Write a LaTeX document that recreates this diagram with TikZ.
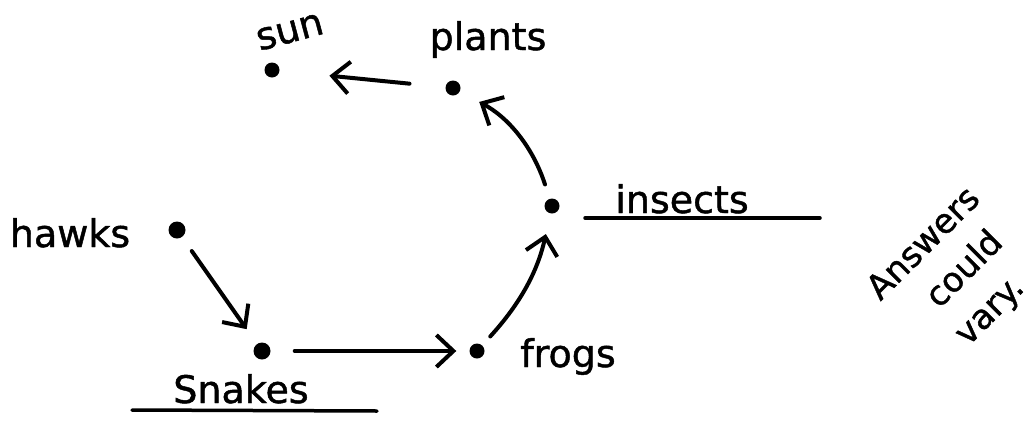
\documentclass[tikz,border=0pt]{standalone}
\usepackage{fontspec}
\setmainfont{DejaVu Sans}
\newfontfamily\handfont{DejaVu Sans}[FakeBold=1.2]
\usetikzlibrary{arrows.meta}
\begin{document}
\begin{tikzpicture}[x=1pt,y=-1pt,
  dot/.style={circle,fill=black,inner sep=0pt,minimum size=15pt},
  lbl/.style={font=\handfont\fontsize{38}{40}\selectfont,inner sep=0pt,text=black},
  note/.style={font=\handfont\fontsize{34}{47}\selectfont,inner sep=0pt,text=black,align=left},
  eat/.style={line width=4pt,line cap=round,-{Straight Barb[length=17pt,width=32pt,line width=4pt]}},
  uline/.style={line width=3.5pt,line cap=round}]
\useasboundingbox[fill=white] (0,0) rectangle (1034,421);
% dots
\node[dot] (sun) at (272,70) {};
\node[dot] (plants) at (453,88) {};
\node[dot] (insects) at (552,206) {};
\node[dot,minimum size=17pt] (hawks) at (177,230) {};
\node[dot,minimum size=17pt] (snakes) at (262,351) {};
\node[dot] (frogs) at (477,351) {};
% labels
\node[lbl,rotate=15] (sunl) at (290,32) {sun};
\node[lbl,anchor=base] (plantsl) at (488,50) {plants};
\node[lbl,anchor=base] (insectsl) at (682,213) {insects};
\node[lbl,anchor=base] (hawksl) at (70,247) {hawks};
\node[lbl,anchor=base] (snakesl) at (241,403) {Snakes};
\node[lbl,anchor=base] (frogsl) at (568,367) {frogs};
\draw[uline] (585,218) -- (820,218);
\draw[uline] (132,410) -- (377,411);
% arrows
\draw[eat,shorten <=36pt,shorten >=50pt] (plants) -- (sun);
\draw[eat,shorten <=15pt,shorten >=22pt] (insects) to[bend right=22] (plants);
\draw[eat,shorten <=12pt,shorten >=21pt] (frogs) to[bend right=15] (insects);
\draw[eat,shorten <=24pt,shorten >=13pt] (snakes) -- (frogs);
\draw[eat,shorten <=17pt,shorten >=18pt] (hawks) -- (snakes);
% note
\node[note,rotate=45] (ans) at (958,278) {Answers\\\hspace*{36pt}could\\\hspace*{30pt}vary.};
\end{tikzpicture}
\end{document}
